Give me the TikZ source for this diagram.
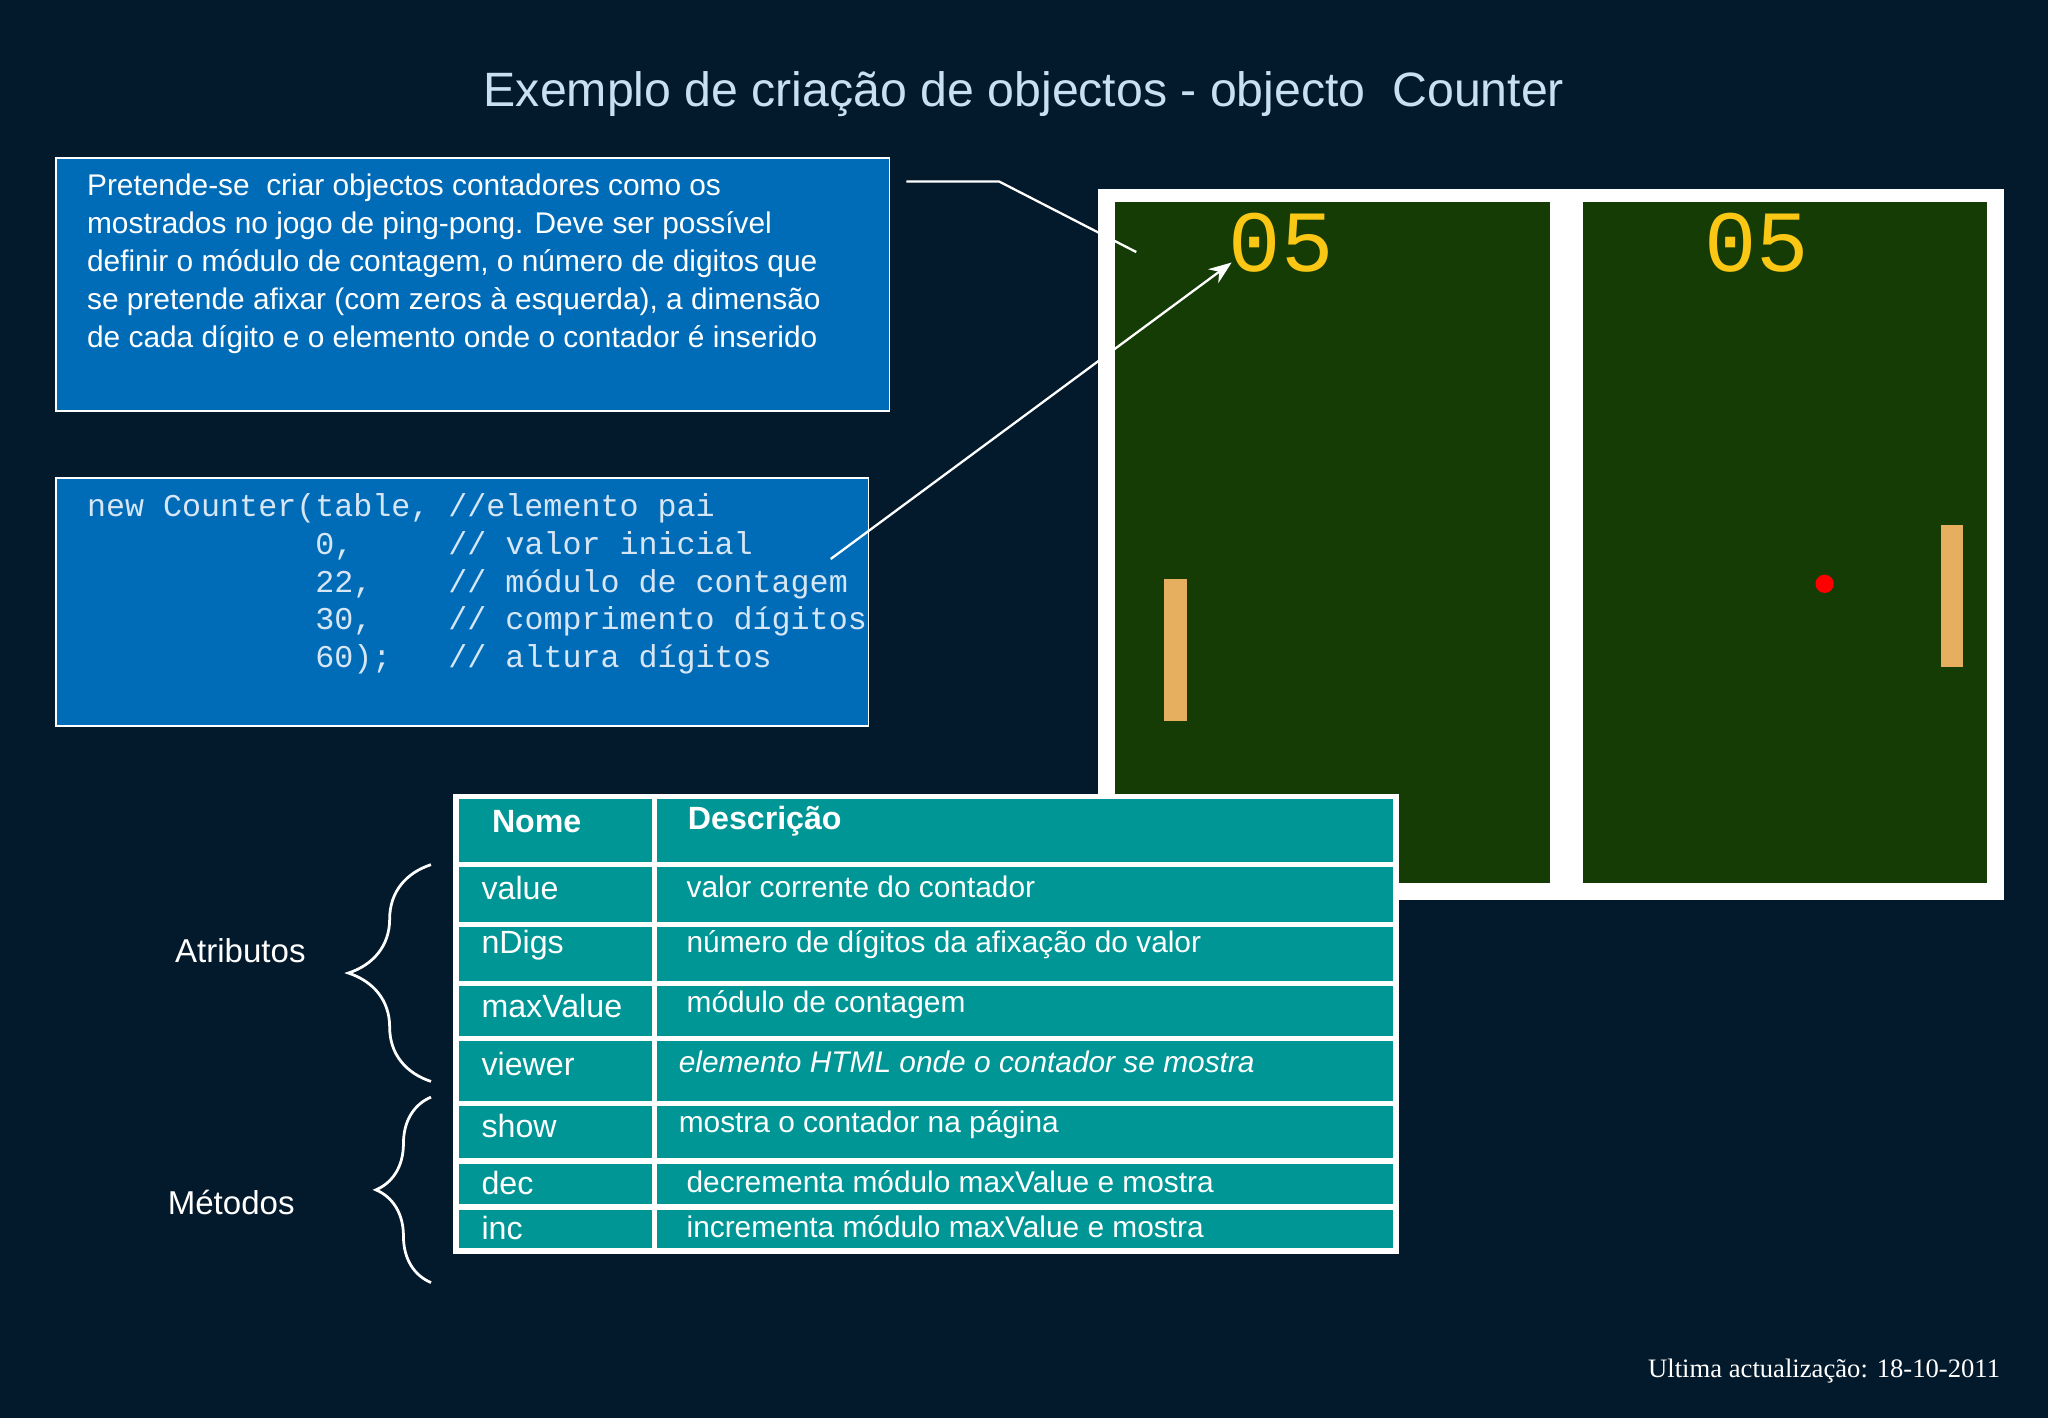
\documentclass[tikz,border=0pt]{standalone}
\usepackage{fontspec}
\setmainfont{Liberation Sans}
\newfontfamily\codefont{Liberation Mono}
\newfontfamily\serfont{Liberation Serif}
\usetikzlibrary{decorations.pathreplacing,arrows.meta}
\definecolor{bg}{RGB}{3,26,44}
\definecolor{boxblue}{RGB}{0,108,184}
\definecolor{titlec}{RGB}{200,225,242}
\definecolor{codec}{RGB}{215,230,245}
\definecolor{field}{RGB}{22,60,5}
\definecolor{teal}{RGB}{0,150,150}
\definecolor{padc}{RGB}{230,175,95}
\definecolor{digc}{RGB}{250,200,20}
\tikzset{
 txt/.style={anchor=west,inner sep=0pt,text=white,font=\fontsize{6.5}{8}\selectfont},
 code/.style={anchor=west,inner sep=0pt,text=codec,font=\codefont\fontsize{6.9}{8}\selectfont},
 cell/.style={anchor=west,inner sep=0pt,text=white,font=\fontsize{6.5}{8}\selectfont},
 digit/.style={inner sep=0pt,text=digc,font=\codefont\fontsize{19}{20}\selectfont},
 lbl/.style={inner sep=0pt,text=white,font=\fontsize{7.2}{8}\selectfont},
}
\begin{document}
\begin{tikzpicture}[x=0.01cm,y=-0.01cm]
\fill[bg] (0,0) rectangle (1568,1086);
\useasboundingbox (0,0) rectangle (1568,1086);
\node[inner sep=0pt,text=titlec,font=\fontsize{10.5}{12}\selectfont] (title) at (784,72) {Exemplo de criação de objectos - objecto\ \ Counter};
% box 1
\draw[white,fill=boxblue,line width=0.4pt] (43,121) rectangle (681,315);
\node[txt] (t1) at (66,144) {Pretende-se\ \ criar objectos contadores como os};
\node[txt] (t2) at (66,173) {mostrados no jogo de ping-pong. Deve ser possível};
\node[txt] (t3) at (66,202) {definir o módulo de contagem, o número de digitos que};
\node[txt] (t4) at (66,231) {se pretende afixar (com zeros à esquerda), a dimensão};
\node[txt] (t5) at (66,260) {de cada dígito e o elemento onde o contador é inserido};
% box 2
\draw[white,fill=boxblue,line width=0.4pt] (43,366) rectangle (665,556);
\node[code] (c1) at (66,389) {new Counter(table, //elemento pai};
\node[code] (c2) at (66,418) {\ \ \ \ \ \ \ \ \ \ \ \ 0,\ \ \ \ \ // valor inicial};
\node[code] (c3) at (66,447) {\ \ \ \ \ \ \ \ \ \ \ \ 22,\ \ \ \ // módulo de contagem};
\node[code] (c4) at (66,476) {\ \ \ \ \ \ \ \ \ \ \ \ 30,\ \ \ \ // comprimento dígitos};
\node[code] (c5) at (66,505) {\ \ \ \ \ \ \ \ \ \ \ \ 60);\ \ \ // altura dígitos};
% game
\fill[white] (841,145) rectangle (1534,689);
\fill[field] (854,155) rectangle (1187,676);
\fill[field] (1212,155) rectangle (1521,676);
\node[digit] (d1) at (981,186) {05};
\node[digit] (d2) at (1345,186) {05};
\fill[padc] (891,443) rectangle (909,552);
\fill[padc] (1486,402) rectangle (1503,511);
\fill[red] (1397,447) circle (7);
\coordinate (l0) at (694,139);
\coordinate (l1) at (765,139);
\coordinate (l2) at (870,193);
\draw[white,line width=0.5pt] (l0) -- (l1) -- (l2);
\coordinate (a0) at (636,428);
\coordinate (a1) at (943,201);
\draw[white,line width=0.5pt,-{Stealth[length=5pt]}] (a0) -- (a1);
% table
\fill[teal] (349,610) rectangle (1069,958);
\draw[white,line width=1.2pt] (349,610) rectangle (1069,958);
\foreach \y in {662,708,753,795,845,889,924} \draw[white,line width=1.2pt] (349,\y) -- (1069,\y);
\draw[white,line width=1.2pt] (501,610) -- (501,958);
\node[cell,font=\bfseries\fontsize{7}{8}\selectfont] (h1) at (376,629) {Nome};
\node[cell,font=\bfseries\fontsize{7}{8}\selectfont] (h2) at (526,629) {Descrição};
\node[cell,font=\fontsize{7}{8}\selectfont] (n1) at (368,680) {value};
\node[cell,font=\fontsize{7}{8}\selectfont] (n2) at (368,724) {nDigs};
\node[cell,font=\fontsize{7}{8}\selectfont] (n3) at (368,770) {maxValue};
\node[cell,font=\fontsize{7}{8}\selectfont] (n4) at (368,815) {viewer};
\node[cell,font=\fontsize{7}{8}\selectfont] (n5) at (368,862) {show};
\node[cell,font=\fontsize{7}{8}\selectfont] (n6) at (368,906) {dec};
\node[cell,font=\fontsize{7}{8}\selectfont] (n7) at (368,940) {inc};
\node[cell] (e1) at (525,679) {valor corrente do contador};
\node[cell] (e2) at (525,723) {número de dígitos da afixação do valor};
\node[cell] (e3) at (525,769) {módulo de contagem};
\node[cell,font=\itshape\fontsize{6.5}{8}\selectfont] (e4) at (519,813) {elemento HTML onde o contador se mostra};
\node[cell] (e5) at (519,861) {mostra o contador na página};
\node[cell] (e6) at (525,905) {decrementa módulo maxValue e mostra};
\node[cell] (e7) at (525,939) {incrementa módulo maxValue e mostra};
% braces
\coordinate (b1a) at (330,828);
\coordinate (b1b) at (330,662);
\draw[white,line width=0.6pt,decorate,decoration={brace,amplitude=18pt}] (b1a) -- (b1b);
\coordinate (b2a) at (330,982);
\coordinate (b2b) at (330,840);
\draw[white,line width=0.6pt,decorate,decoration={brace,amplitude=12pt}] (b2a) -- (b2b);
\node[lbl] (atr) at (184,728) {Atributos};
\node[lbl] (met) at (177,921) {Métodos};
\node[anchor=east,inner sep=0pt,text=white,font=\serfont\fontsize{5.8}{7}\selectfont] (foot) at (1532,1050) {Ultima actualização: 18-10-2011};
\end{tikzpicture}
\end{document}
